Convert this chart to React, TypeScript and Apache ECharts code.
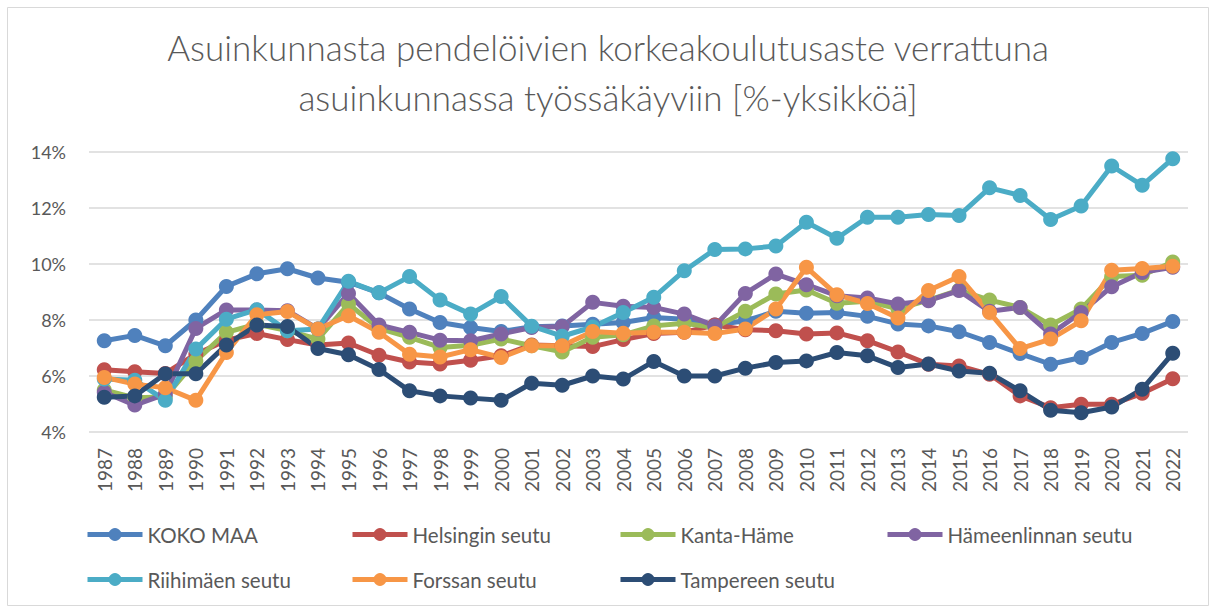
import React, { useEffect, useRef } from "react";
import * as echarts from "echarts";

const years = [
  "1987","1988","1989","1990","1991","1992","1993","1994","1995","1996",
  "1997","1998","1999","2000","2001","2002","2003","2004","2005","2006",
  "2007","2008","2009","2010","2011","2012","2013","2014","2015","2016",
  "2017","2018","2019","2020","2021","2022",
];

const kokoMaa = [7.26,7.45,7.08,8.0,9.2,9.65,9.83,9.5,9.35,8.97,8.39,7.91,7.73,7.59,7.76,7.79,7.85,7.91,8.09,8.03,7.82,7.97,8.31,8.24,8.27,8.13,7.86,7.79,7.58,7.2,6.8,6.42,6.66,7.2,7.52,7.95];
const helsinki = [6.22,6.15,6.09,6.78,7.28,7.52,7.3,7.11,7.18,6.74,6.5,6.43,6.56,6.72,7.11,7.08,7.05,7.3,7.52,7.56,7.82,7.65,7.62,7.5,7.54,7.26,6.86,6.42,6.36,6.06,5.29,4.87,4.99,4.99,5.38,5.9];
const kantaHame = [5.5,5.22,5.25,6.54,7.56,7.85,7.62,7.32,8.57,7.7,7.38,7.02,7.1,7.32,7.08,6.86,7.38,7.47,7.79,7.88,7.73,8.31,8.93,9.07,8.6,8.67,8.4,8.71,9.07,8.71,8.45,7.82,8.39,9.55,9.6,10.07];
const hameenlinna = [5.42,4.96,5.35,7.7,8.36,8.36,8.33,7.68,8.95,7.82,7.56,7.28,7.26,7.5,7.73,7.77,8.63,8.49,8.45,8.21,7.79,8.95,9.64,9.26,8.87,8.79,8.57,8.69,9.05,8.31,8.45,7.5,8.27,9.19,9.7,9.88];
const riihimaki = [5.89,5.85,5.13,6.96,8.03,8.37,7.62,7.68,9.38,8.97,9.55,8.71,8.21,8.84,7.78,7.42,7.75,8.27,8.81,9.76,10.52,10.54,10.64,11.49,10.92,11.67,11.67,11.77,11.73,12.72,12.45,11.59,12.07,13.5,12.81,13.76];
const forssa = [5.95,5.71,5.58,5.13,6.84,8.19,8.3,7.68,8.15,7.56,6.78,6.68,6.94,6.66,7.08,7.08,7.59,7.53,7.56,7.56,7.52,7.68,8.39,9.88,8.9,8.59,8.07,9.05,9.55,8.27,6.98,7.32,7.97,9.78,9.84,9.92];
const tampere = [5.24,5.29,6.08,6.08,7.11,7.82,7.77,6.98,6.76,6.23,5.47,5.29,5.21,5.13,5.74,5.67,6.0,5.89,6.52,6.0,6.0,6.28,6.48,6.54,6.84,6.72,6.3,6.43,6.18,6.1,5.47,4.78,4.69,4.89,5.53,6.81];

const seriesNames = ["KOKO MAA","Helsingin seutu","Kanta-Häme","Hämeenlinnan seutu","Riihimäen seutu","Forssan seutu","Tampereen seutu"];
const seriesData = [kokoMaa, helsinki, kantaHame, hameenlinna, riihimaki, forssa, tampere];
const colors = ["#4F81BD","#C0504D","#9BBB59","#8064A2","#4BACC6","#F79646","#2C4D75"];

const titleLines = ["Asuinkunnasta pendelöivien korkeakoulutusaste verrattuna", "asuinkunnassa työssäkäyviin [%-yksikköä]"];

const FONT = "Lato";
const TXT = "#595959";

export default function App() {
  const ref = useRef<HTMLDivElement>(null);
  useEffect(() => {
    const chart = echarts.init(ref.current!, null, { renderer: "svg" });
    const legendPos = [
      [85, 524], [350, 524], [618, 524], [885, 524],
      [85, 569], [350, 569], [618, 569],
    ];
    chart.setOption({
      animation: false,
      backgroundColor: "#fff",
      title: {
        text: titleLines.join("\n"),
        left: "center",
        top: 22,
        padding: 0,
        textStyle: { fontFamily: FONT, fontWeight: 300, fontSize: 35, color: TXT, lineHeight: 50 },
      },
      grid: { left: 89, right: 28, top: 152, bottom: 178, containLabel: false },
      legend: seriesNames.map((n, i) => ({
        data: [n],
        left: legendPos[i][0],
        top: legendPos[i][1],
        padding: 0,
        itemWidth: 55,
        itemHeight: 16,
        itemGap: 5,
        lineStyle: { width: 5 },
        textStyle: { fontFamily: FONT, fontSize: 20.5, color: TXT },
        selectedMode: false,
      })),
      xAxis: {
        type: "category",
        data: years,
        boundaryGap: true,
        axisLine: { show: false },
        axisTick: { show: false },
        axisLabel: { rotate: 90, fontFamily: FONT, fontSize: 19, color: TXT, margin: 16, interval: 0 },
      },
      yAxis: {
        type: "value",
        min: 4,
        max: 14,
        interval: 2,
        axisLine: { show: false },
        axisTick: { show: false },
        axisLabel: { formatter: "{value}%", fontFamily: FONT, fontSize: 18, color: TXT, margin: 23 },
        splitLine: { lineStyle: { color: "#D9D9D9", width: 1.5 } },
      },
      graphic: [
        {
          type: "rect",
          shape: { x: 7.5, y: 7.5, width: 1201, height: 598 },
          style: { fill: "none", stroke: "#D9D9D9", lineWidth: 1 },
          silent: true,
        },
      ],
      series: seriesNames.map((n, i) => ({
        name: n,
        type: "line",
        data: seriesData[i],
        symbol: "circle",
        symbolSize: 15,
        lineStyle: { width: 5, color: colors[i] },
        itemStyle: { color: colors[i] },
        color: colors[i],
      })),
    });
    return () => chart.dispose();
  }, []);
  return <div ref={ref} style={{ position: "fixed", left: 0, top: 0, width: 1216, height: 610 }} />;
}
